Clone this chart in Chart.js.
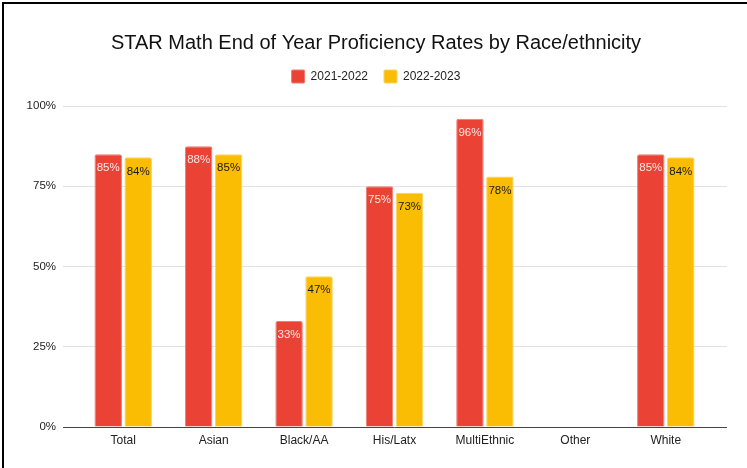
<!DOCTYPE html>
<html>
<head>
<meta charset="utf-8">
<script src="https://cdn.jsdelivr.net/npm/chart.js@4"></script>
<style>
  html, body { margin: 0; background: #fff; overflow: hidden; width: 747px; height: 468px; }
  #wrap { position: absolute; left: 0; top: 0; width: 747px; height: 468px; }
  .edge { position: absolute; background: #000; pointer-events: none; }
  #edgeTop { left: 2px; top: 2px; width: 745px; height: 2px; }
  #edgeLeft { left: 2px; top: 2px; width: 2px; height: 466px; }
</style>
</head>
<body>
<div id="wrap"><canvas id="chart"></canvas></div>
<div class="edge" id="edgeTop"></div>
<div class="edge" id="edgeLeft"></div>
<script>
// data
const categories = ["Total", "Asian", "Black/AA", "His/Latx", "MultiEthnic", "Other", "White"];
const seriesNames = ["2021-2022", "2022-2023"];
const values2122 = [85, 87.5, 33, 75, 96, null, 85];
const values2223 = [84, 85, 47, 73, 78, null, 84];
const yTicks = [0, 25, 50, 75, 100];

const FONT = "'Liberation Sans', Arial, sans-serif";
const gridColor = (ctx) => (ctx.tick && ctx.tick.value === 0 ? "#444" : "#e2e2e2");

// draws the value inside the top of each bar
const barLabels = {
  id: "barLabels",
  afterDatasetsDraw(chart) {
    const ctx = chart.ctx;
    ctx.save();
    ctx.font = "11.5px " + FONT;
    ctx.textAlign = "center";
    ctx.textBaseline = "middle";
    chart.data.datasets.forEach((ds, i) => {
      const meta = chart.getDatasetMeta(i);
      meta.data.forEach((bar, j) => {
        const v = ds.data[j];
        if (v === null || v === undefined) return;
        ctx.fillStyle = i === 0 ? "rgba(255,255,255,0.88)" : "#1a1a1a";
        ctx.fillText(Math.round(v) + "%", bar.x, bar.y + 14);
      });
    });
    ctx.restore();
  },
};

new Chart(document.getElementById("chart"), {
  type: "bar",
  data: {
    labels: categories,
    datasets: [
      {
        label: seriesNames[0],
        data: values2122,
        backgroundColor: "#ea4335",
        borderColor: "#f07b70",
        borderWidth: 1,
        borderRadius: 2,
        borderSkipped: "bottom",
      },
      {
        label: seriesNames[1],
        data: values2223,
        backgroundColor: "#fbbc04",
        borderColor: "#fdd25a",
        borderWidth: 1,
        borderRadius: 2,
        borderSkipped: "bottom",
      },
    ],
  },
  options: {
    responsive: true,
    maintainAspectRatio: false,
    animation: false,
    datasets: { bar: { categoryPercentage: 0.663, barPercentage: 0.917 } },
    layout: { padding: { left: 25, right: 20, top: 10, bottom: 0 } },
    plugins: {
      title: {
        display: true,
        text: "STAR Math End of Year Proficiency Rates by Race/ethnicity",
        color: "#111",
        font: { family: FONT, size: 20, weight: "normal", lineHeight: 1.1 },
        padding: { top: 22, bottom: 0 },
      },
      legend: {
        position: "top",
        labels: {
          color: "#222",
          font: { family: FONT, size: 12 },
          boxWidth: 13,
          boxHeight: 13,
          padding: 16,
          useBorderRadius: true,
          borderRadius: 1,
        },
      },
      // empty subtitle used as a spacer between legend and plot
      subtitle: {
        display: true,
        text: "",
        weight: 500,
        font: { size: 1, lineHeight: 1 },
        padding: { top: 0, bottom: 12 },
      },
      tooltip: { enabled: false },
    },
    scales: {
      x: {
        grid: { display: false, drawTicks: false },
        border: { display: false },
        ticks: { color: "#222", font: { family: FONT, size: 12 }, padding: 6 },
        afterFit(scale) { scale.height = 41; },
      },
      y: {
        min: 0,
        max: 100,
        afterBuildTicks(scale) { scale.ticks = yTicks.map((v) => ({ value: v })); },
        grid: { color: gridColor, tickLength: 15, drawTicks: true },
        border: { display: false },
        ticks: {
          color: "#222",
          font: { family: FONT, size: 11.5 },
          padding: 7,
          callback: (v) => v + "%",
        },
        afterFit(scale) { scale.width = 53; },
      },
      y2: {
        position: "right",
        min: 0,
        max: 100,
        afterBuildTicks(scale) { scale.ticks = yTicks.map((v) => ({ value: v })); },
        grid: { color: gridColor, tickLength: 16, drawTicks: true, drawOnChartArea: false },
        border: { display: false },
        ticks: { display: false },
        afterFit(scale) { scale.width = 16; },
      },
    },
  },
  plugins: [barLabels],
});
</script>
</body>
</html>
